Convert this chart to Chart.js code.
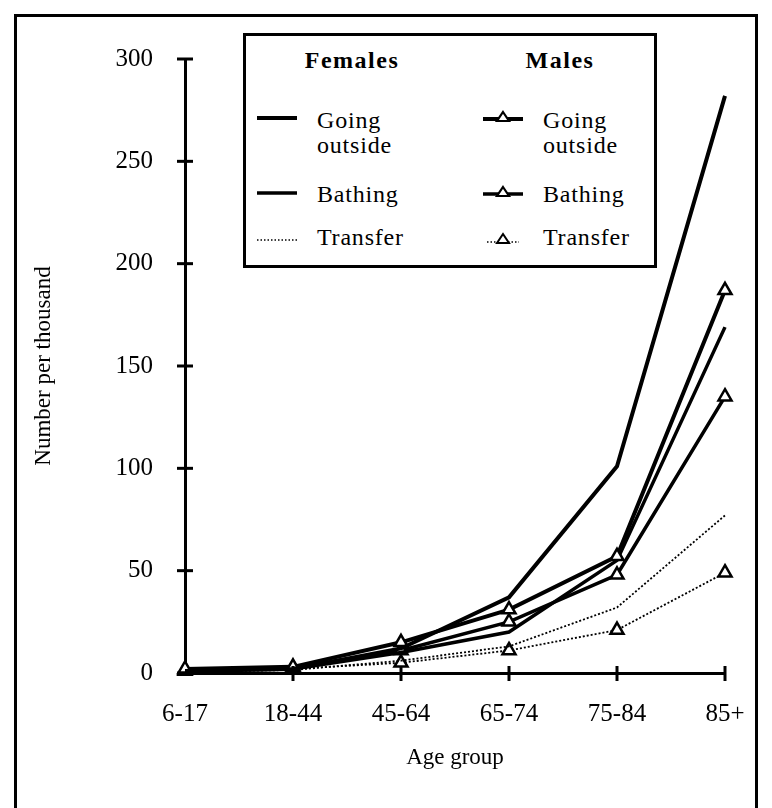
<!DOCTYPE html>
<html><head><meta charset="utf-8">
<script src="https://cdn.jsdelivr.net/npm/chart.js@4.4.1/dist/chart.umd.min.js"></script>
<style>
html,body{margin:0;padding:0;background:#fff;}
#wrap{position:relative;width:772px;height:808px;overflow:hidden;font-family:"Liberation Serif","Times New Roman",serif;color:#000;}
#c{position:absolute;left:0;top:0;}
#frame{position:absolute;left:14px;top:14px;width:738px;height:820px;border:3px solid #000;pointer-events:none;}
#legend{position:absolute;left:243px;top:33px;width:408px;height:229px;border:3px solid #000;background:#fff;}
.hd{position:absolute;width:140px;text-align:center;font-weight:bold;font-size:24px;letter-spacing:1.5px;line-height:30px;height:30px;}
.t{position:absolute;font-size:24px;line-height:25px;letter-spacing:0.8px;white-space:nowrap;}
.s{position:absolute;width:40px;height:16px;}
</style></head>
<body>
<div id="wrap">
<canvas id="c" width="772" height="808"></canvas>
<div id="legend"></div>
<div class="hd" style="left:282px;top:45px;">Females</div>
<div class="hd" style="left:490px;top:45px;">Males</div>

<svg class="s" style="left:257px;top:110px;" viewBox="0 0 40 16"><line x1="0" y1="8" x2="40" y2="8" stroke="#000" stroke-width="4"/></svg>
<div class="t" style="left:317px;top:108px;">Going<br>outside</div>
<svg class="s" style="left:257px;top:185px;" viewBox="0 0 40 16"><line x1="0" y1="8" x2="40" y2="8" stroke="#000" stroke-width="3.5"/></svg>
<div class="t" style="left:317px;top:182px;">Bathing</div>
<svg class="s" style="left:257px;top:232px;" viewBox="0 0 40 16"><line x1="0" y1="8" x2="40" y2="8" stroke="#000" stroke-width="1.5" stroke-dasharray="1.5 2"/></svg>
<div class="t" style="left:317px;top:225px;">Transfer</div>

<svg class="s" style="left:483px;top:110px;" viewBox="0 0 40 16"><line x1="0" y1="9" x2="40" y2="9" stroke="#000" stroke-width="4"/><polygon points="20,2 26,11 14,11" fill="#fff" stroke="#000" stroke-width="2.2"/></svg>
<div class="t" style="left:543px;top:108px;">Going<br>outside</div>
<svg class="s" style="left:483px;top:185px;" viewBox="0 0 40 16"><line x1="0" y1="9" x2="40" y2="9" stroke="#000" stroke-width="3.5"/><polygon points="20,2 26,11 14,11" fill="#fff" stroke="#000" stroke-width="2.2"/></svg>
<div class="t" style="left:543px;top:182px;">Bathing</div>
<svg class="s" style="left:483px;top:232px;" viewBox="0 0 40 16"><line x1="4" y1="10" x2="36" y2="10" stroke="#000" stroke-width="1.5" stroke-dasharray="1.5 2"/><polygon points="20,2 26,11 14,11" fill="#fff" stroke="#000" stroke-width="2"/></svg>
<div class="t" style="left:543px;top:225px;">Transfer</div>

<div id="frame"></div>
</div>
<script>
const categories = ['6-17', '18-44', '45-64', '65-74', '75-84', '85+'];
const femaleGoingOutside = [1, 2, 12, 37, 101, 282];
const femaleBathing      = [1, 2, 10, 20, 55, 169];
const femaleTransfer     = [0.5, 1.5, 6, 13, 32, 77];
const maleGoingOutside   = [2, 3, 15, 31, 57, 187];
const maleBathing        = [1.5, 2.5, 11, 25, 48, 135];
const maleTransfer       = [1, 2, 5, 11, 21, 49];
const yMin = 0, yMax = 300, yStep = 50;

const crossTicks = {
  id: 'crossTicks',
  afterDraw(chart) {
    const ctx = chart.ctx;
    const xs = chart.scales.x, ys = chart.scales.y;
    ctx.save();
    ctx.strokeStyle = '#000';
    ctx.lineWidth = 3;
    ys.ticks.forEach((t, i) => {
      const y = ys.getPixelForTick(i);
      const x = ys.right;
      ctx.beginPath(); ctx.moveTo(x - 8, y); ctx.lineTo(x + 8, y); ctx.stroke();
    });
    xs.ticks.forEach((t, i) => {
      if (i === 0) return;
      const x = xs.getPixelForTick(i);
      const y = xs.top;
      ctx.beginPath(); ctx.moveTo(x, y - 7); ctx.lineTo(x, y + 8); ctx.stroke();
    });
    ctx.restore();
  }
};

function femaleDs(label, data, width, dash) {
  return { label, data, borderColor: '#000', backgroundColor: '#000', borderWidth: width,
    borderDash: dash, pointRadius: 0, tension: 0, clip: false };
}
function maleDs(label, data, width, dash) {
  return { label, data, borderColor: '#000', backgroundColor: '#fff', borderWidth: width,
    borderDash: dash, pointStyle: 'triangle', pointRadius: 7.5, pointBorderWidth: 2.5,
    pointBorderColor: '#000', pointBackgroundColor: '#fff', tension: 0, clip: false };
}

const FONT = '"Liberation Serif", "Times New Roman", serif';

new Chart(document.getElementById('c'), {
  type: 'line',
  data: {
    labels: categories,
    datasets: [
      femaleDs('Females: Going outside', femaleGoingOutside, 4, []),
      maleDs('Males: Going outside', maleGoingOutside, 4, []),
      femaleDs('Females: Bathing', femaleBathing, 3.5, []),
      maleDs('Males: Bathing', maleBathing, 3.5, []),
      femaleDs('Females: Transfer', femaleTransfer, 1.8, [2, 2]),
      maleDs('Males: Transfer', maleTransfer, 1.8, [2, 2])
    ]
  },
  options: {
    responsive: false,
    animation: false,
    events: [],
    layout: { padding: { left: 0, top: 59, right: 47, bottom: 0 } },
    plugins: { legend: { display: false }, tooltip: { enabled: false } },
    scales: {
      x: {
        type: 'category',
        offset: false,
        afterFit(s) { s.height = 135; },
        grid: { display: false, drawTicks: false },
        border: { display: true, color: '#000', width: 3 },
        ticks: { color: '#000', padding: 26, maxRotation: 0, autoSkip: false,
          font: { family: FONT, size: 25 } },
        title: { display: true, text: 'Age group', color: '#000',
          font: { family: FONT, size: 23 }, padding: { top: 0, bottom: 36 } }
      },
      y: {
        min: yMin, max: yMax,
        afterFit(s) { s.width = 185; },
        grid: { display: false, drawTicks: false },
        border: { display: true, color: '#000', width: 3 },
        ticks: { stepSize: yStep, color: '#000', padding: 32,
          font: { family: FONT, size: 25 } },
        title: { display: true, text: 'Number per thousand', color: '#000',
          font: { family: FONT, size: 23 }, padding: { top: 30, bottom: 0 } }
      }
    }
  },
  plugins: [crossTicks]
});
</script>
</body></html>
